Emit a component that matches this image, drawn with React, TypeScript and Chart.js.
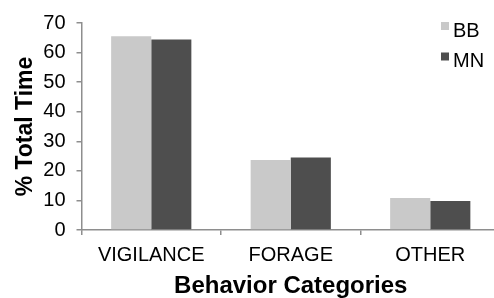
import React, { useEffect, useRef } from "react";
import { Chart, registerables } from "chart.js";

Chart.register(...registerables);

const categories = ["VIGILANCE", "FORAGE", "OTHER"];
const seriesNames = ["BB", "MN"];
const bbValues = [65.5, 23.7, 10.8];
const mnValues = [64.4, 24.5, 9.8];
const yTicks = [0, 10, 20, 30, 40, 50, 60, 70];
const yTitle = "% Total Time";
const xTitle = "Behavior Categories";

const FONT = "'Liberation Sans', Arial, Helvetica, sans-serif";
const AXIS = "#8e8e8e";

const legendPlugin = {
  id: "cornerLegend",
  afterDraw(chart: any) {
    const ctx = chart.ctx;
    ctx.save();
    ctx.font = `20px ${FONT}`;
    ctx.textBaseline = "middle";
    ctx.textAlign = "left";
    chart.data.datasets.forEach((ds: any, i: number) => {
      const cy = 26 + i * 30.5;
      ctx.fillStyle = ds.backgroundColor;
      ctx.fillRect(441, cy - 4, 8, 8);
      ctx.fillStyle = "#000";
      ctx.fillText(ds.label, 453, cy + 5);
    });
    ctx.restore();
  },
};

export default function App() {
  const ref = useRef<HTMLCanvasElement | null>(null);
  useEffect(() => {
    if (!ref.current) return;
    const chart = new Chart(ref.current, {
      type: "bar",
      data: {
        labels: categories,
        datasets: [
          { label: seriesNames[0], data: bbValues, backgroundColor: "#c9c9c9" },
          { label: seriesNames[1], data: mnValues, backgroundColor: "#4e4e4e" },
        ],
      },
      plugins: [legendPlugin],
      options: {
        animation: false,
        responsive: false,
        maintainAspectRatio: false,
        layout: { padding: { left: 0, top: 21, right: 0, bottom: 0 } },
        datasets: { bar: { categoryPercentage: 0.575, barPercentage: 1 } },
        plugins: { legend: { display: false }, tooltip: { enabled: false } },
        scales: {
          x: {
            grid: { display: true, offset: true, drawOnChartArea: false, drawTicks: true, tickLength: 5, color: AXIS, lineWidth: 1.5 },
            border: { display: true, color: AXIS, width: 1.5 },
            ticks: { color: "#000", font: { family: FONT, size: 20 }, padding: 8, maxRotation: 0 },
            title: { display: true, text: xTitle, color: "#000", font: { family: FONT, size: 24, weight: "bold", lineHeight: 1 }, padding: { top: 0, bottom: 0 } },
            afterFit(scale: any) { scale.height = 68; },
          },
          y: {
            min: 0,
            max: 70,
            afterBuildTicks(scale: any) { scale.ticks = yTicks.map((v) => ({ value: v })); },
            grid: { display: true, drawOnChartArea: false, drawTicks: true, tickLength: 5, color: AXIS, lineWidth: 1.5 },
            border: { display: true, color: AXIS, width: 1.5 },
            ticks: { color: "#000", font: { family: FONT, size: 20 }, padding: 11 },
            title: { display: true, text: yTitle, color: "#000", font: { family: FONT, size: 23, weight: "bold", lineHeight: 1 }, padding: { top: 14, bottom: 0 } },
            afterFit(scale: any) { scale.width = 81.5; },
          },
        },
      },
    });
    return () => chart.destroy();
  }, []);
  return (
    <div style={{ position: "fixed", left: 0, top: 0, width: 494, height: 298, overflow: "hidden", background: "#fff" }}>
      <canvas ref={ref} width={500} height={298} style={{ display: "block", width: 500, height: 298 }} />
    </div>
  );
}
